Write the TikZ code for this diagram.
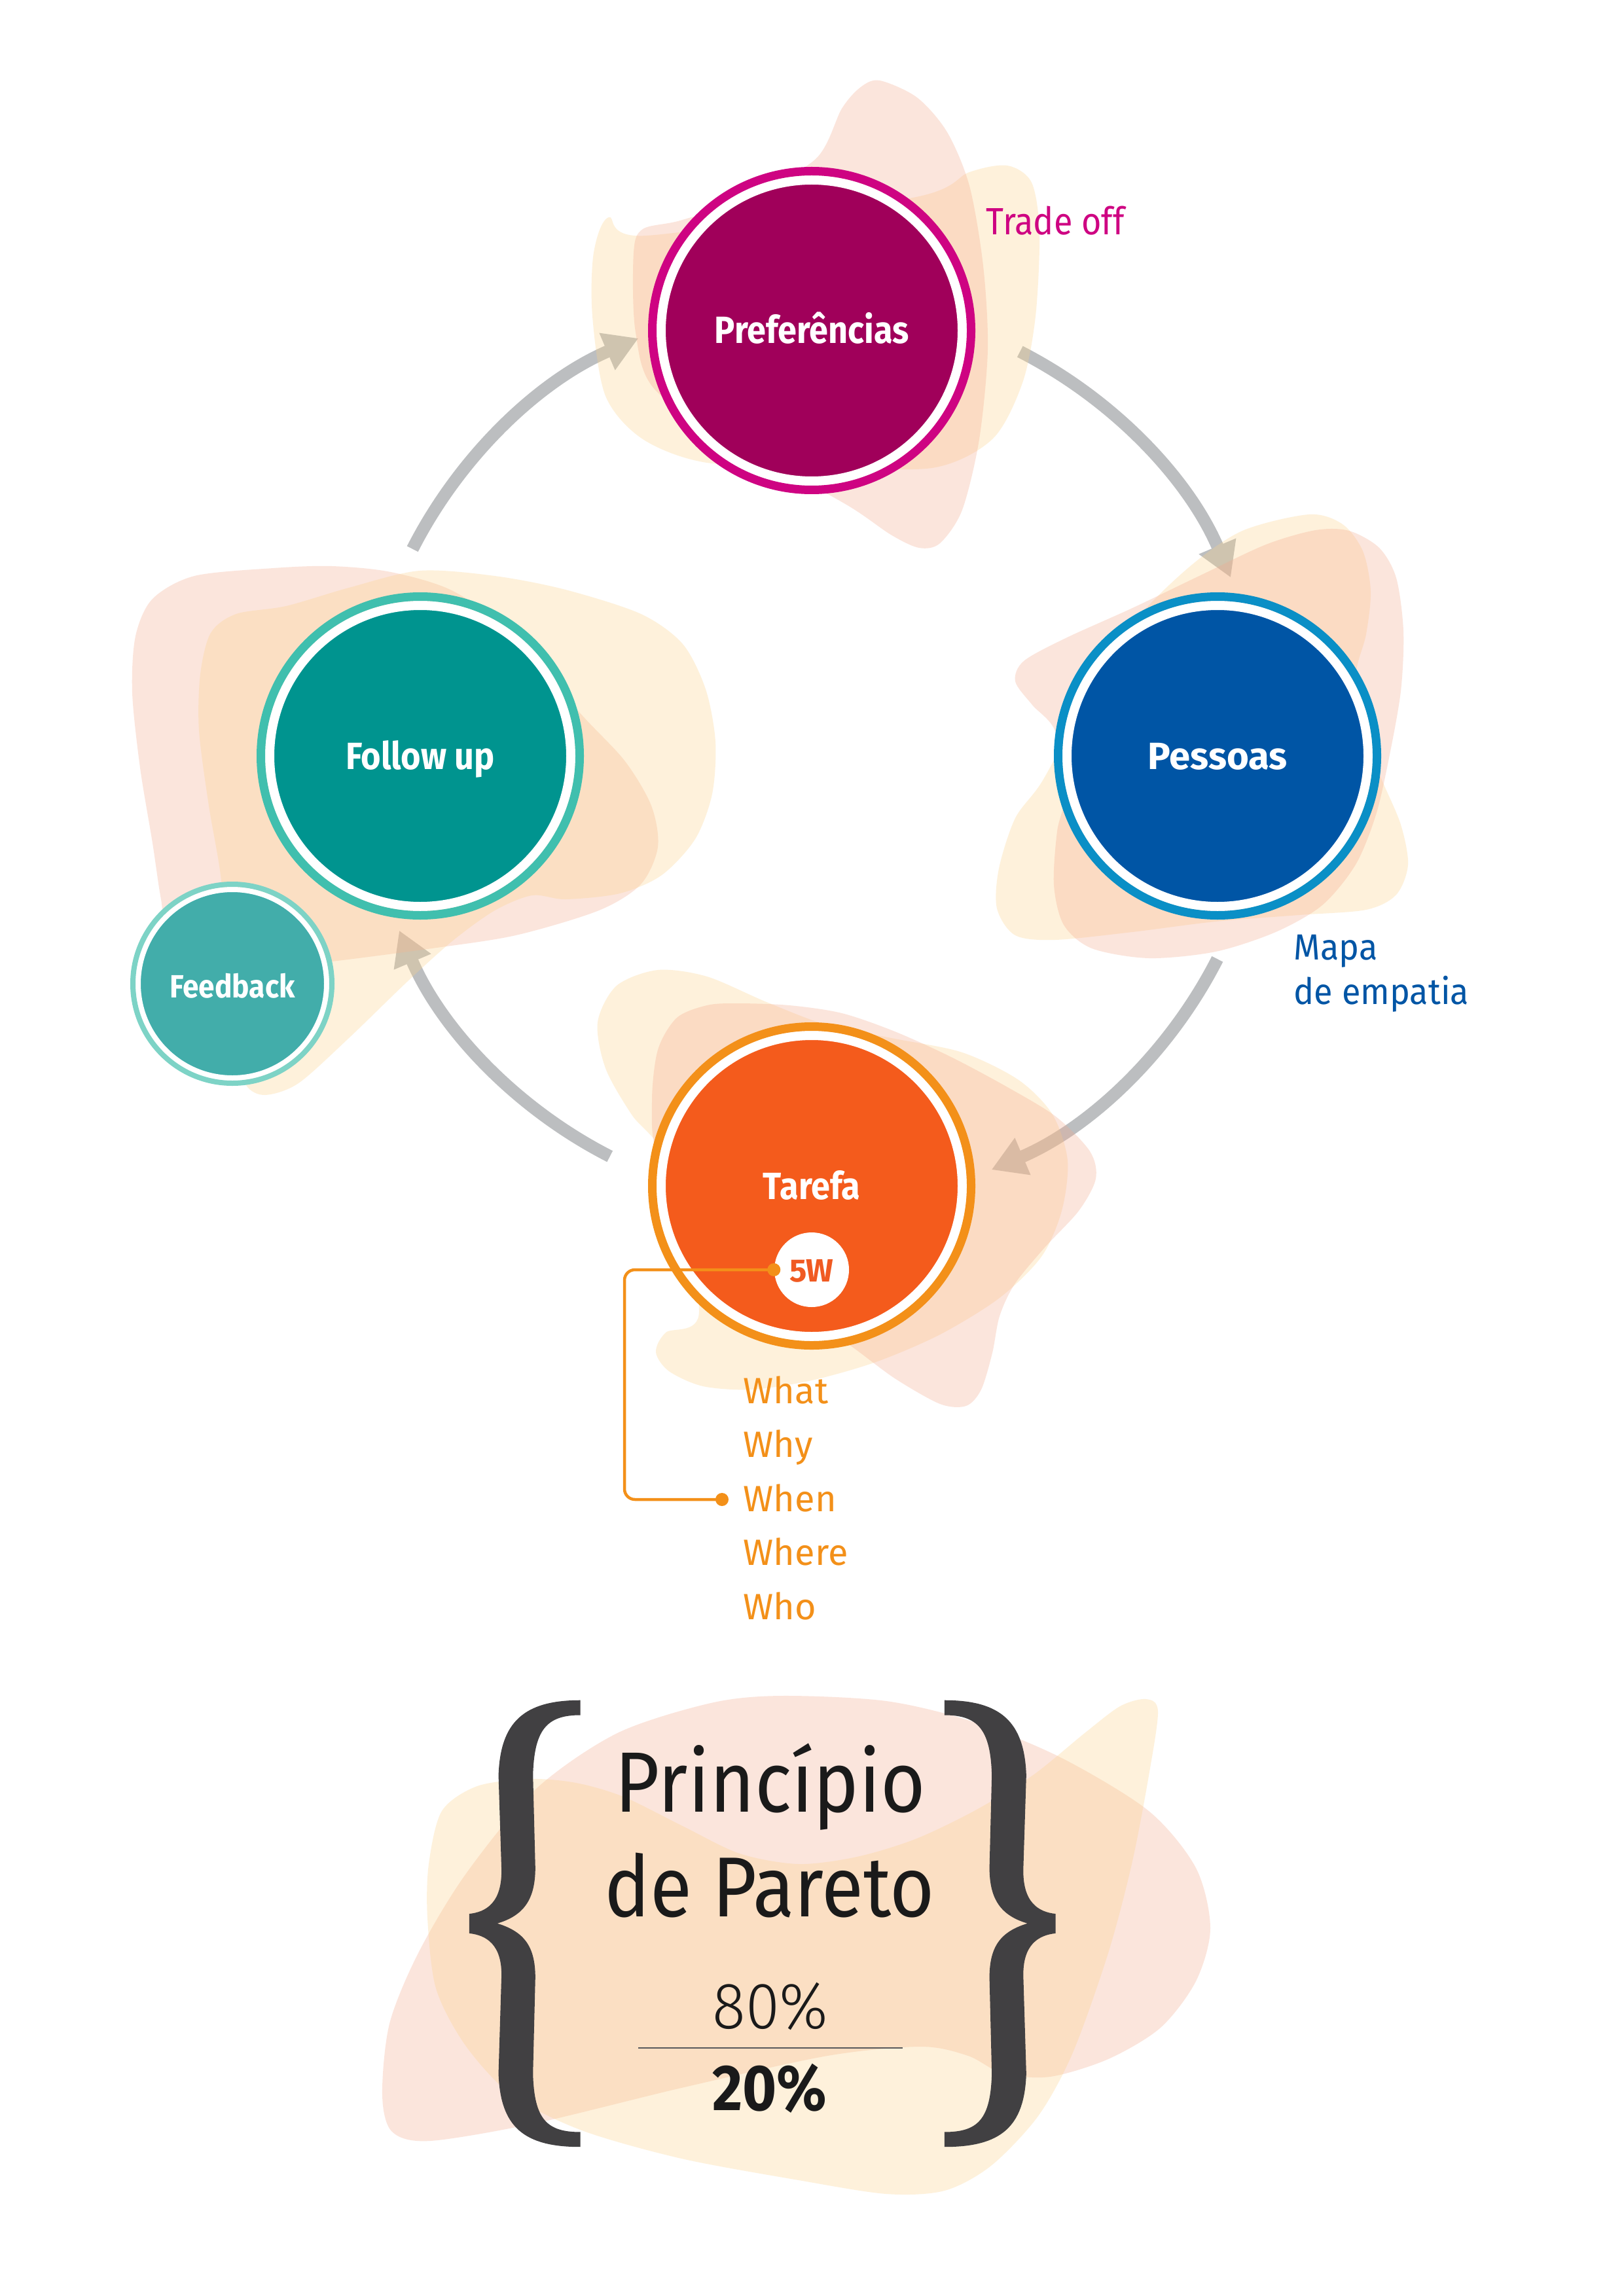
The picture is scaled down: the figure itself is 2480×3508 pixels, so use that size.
\documentclass[tikz,border=0pt]{standalone}
\usepackage{fontspec}
\setmainfont{Fira Sans}
\newfontfamily\lblfont[FakeStretch=0.9]{Fira Sans}
\newfontfamily\txtfont{Fira Sans}
\newfontfamily\notefont[FakeStretch=0.94]{Fira Sans}
\newfontfamily\headfont[FakeStretch=0.9]{Fira Sans}
\newfontfamily\thinfont[FakeStretch=0.94]{Fira Sans Light}
\usetikzlibrary{arrows.meta,calc}

\definecolor{prefFill}{HTML}{A0005A}
\definecolor{prefRing}{HTML}{CE0382}
\definecolor{pesFill}{HTML}{0055A5}
\definecolor{pesRing}{HTML}{0A8FC6}
\definecolor{fuFill}{HTML}{00948F}
\definecolor{fuRing}{HTML}{40BFAE}
\definecolor{fbFill}{HTML}{42ADAA}
\definecolor{fbRing}{HTML}{7DD3C6}
\definecolor{tarFill}{HTML}{F45B1C}
\definecolor{tarRing}{HTML}{F39019}
\definecolor{fiveW}{HTML}{F05A22}
\definecolor{arrowGray}{HTML}{BCBEC0}
\definecolor{braceGray}{HTML}{414042}
\definecolor{blobPink}{HTML}{F5A98C}
\definecolor{blobCream}{HTML}{FCD28A}
\definecolor{inkBlack}{HTML}{1A1A1A}
\definecolor{ruleGray}{HTML}{58595B}

\tikzset{
  flow/.style={draw=arrowGray, line width=1.9mm,
    -{Triangle[length=5.2mm,width=5.8mm]}},
  pinkblob/.style={fill=blobPink, fill opacity=0.3},
  creamblob/.style={fill=blobCream, fill opacity=0.3},
  bigdisc/.style={circle, minimum size=46mm, inner sep=0pt, draw=white,
    line width=1.4mm, text=white, text height=4mm, text depth=0pt,
    font=\lblfont\bfseries\fontsize{16.5}{20}\selectfont},
  smalldisc/.style={circle, minimum size=28.8mm, inner sep=0pt, draw=white,
    line width=0.8mm, text=white, text height=4.3mm, text depth=0pt,
    font=\lblfont\bfseries\fontsize{14}{17}\selectfont},
  bigring/.style={line width=1.3mm},
  smallring/.style={line width=0.8mm},
  note/.style={inner sep=0pt, anchor=base west,
    font=\notefont\fontsize{15.8}{19}\selectfont},
  wlist/.style={inner sep=0pt, anchor=base west, text=tarRing,
    font=\txtfont\fontsize{15.9}{19}\selectfont},
  conn/.style={draw=tarRing, line width=0.45mm},
  bigtext/.style={inner sep=0pt, anchor=base, text=inkBlack},
  curly/.pic={
    \fill[braceGray] (-311.5,88) .. controls (-408.5,88) and (-448.5,150) .. (-451.5,300)
      -- (-446.5,560) .. controls (-444.5,660) and (-473.5,685) .. (-501.5,690)
      -- (-501.5,745) .. controls (-473.5,750) and (-444.5,775) .. (-446.5,870)
      -- (-451.5,1140) .. controls (-448.5,1290) and (-408.5,1347) .. (-311.5,1347)
      -- (-311.5,1305) .. controls (-368.5,1305) and (-390.5,1270) .. (-392.5,1140)
      -- (-388.5,870) .. controls (-388.5,780) and (-408.5,740) .. (-453.5,717)
      .. controls (-408.5,695) and (-388.5,650) .. (-388.5,560)
      -- (-392.5,300) .. controls (-390.5,170) and (-368.5,130) .. (-311.5,130)
      -- cycle;
  }
}

\begin{document}
\begin{tikzpicture}[x=0.1mm, y=-0.1mm]
\useasboundingbox (0,0) rectangle (2480,3508);
\fill[white] (0,0) rectangle (2480,3508);

% ---- cycle arrows (under the tinted shapes) ----
\coordinate (hub) at (1245,1152);
\coordinate (fu-out)  at ($(hub)+(207:690)$);
\coordinate (pref-out) at ($(hub)+(297:690)$);
\coordinate (pes-out) at ($(hub)+(27:690)$);
\coordinate (tar-out) at ($(hub)+(117:690)$);
\draw[flow] (fu-out)  arc[start angle=207, end angle=247, radius=690];
\draw[flow] (pref-out) arc[start angle=297, end angle=337, radius=690];
\draw[flow] (pes-out) arc[start angle=27,  end angle=67,  radius=690];
\draw[flow] (tar-out) arc[start angle=117, end angle=157, radius=690];

% ---- soft shapes behind the circles ----
\fill[creamblob] plot[smooth cycle] coordinates {(930,332) (988,360) (1395,302) (1481,263) (1539,253) (1576,279) (1588,355) (1582,483) (1562,585) (1516,671) (1424,715) (1252,712) (1080,707) (982,671) (925,605) (905,483) (907,386)};
\fill[pinkblob] plot[smooth cycle] coordinates {(1344,123) (1401,149) (1447,202) (1481,284) (1502,406) (1509,534) (1496,671) (1470,779) (1436,830) (1404,837) (1361,817) (1298,774) (1171,702) (1005,600) (971,508) (968,386) (982,350) (1039,337) (1137,304) (1246,243) (1286,166) (1315,133)};

\fill[creamblob] plot[smooth cycle] coordinates {(2000,786) (2051,801) (2082,842) (2094,903) (2087,969) (2071,1036) (2087,1133) (2112,1194) (2140,1260) (2151,1321) (2133,1367) (2087,1390) (1985,1398) (1857,1408) (1730,1424) (1612,1436) (1551,1429) (1523,1388) (1526,1327) (1551,1250) (1592,1194) (1653,1082) (1730,954) (1816,867) (1898,811)};
\fill[pinkblob] plot[smooth cycle] coordinates {(2061,811) (2107,837) (2133,883) (2144,964) (2140,1056) (2122,1158) (2102,1245) (2071,1321) (2020,1383) (1949,1424) (1857,1454) (1755,1464) (1668,1449) (1625,1413) (1610,1352) (1615,1270) (1628,1209) (1612,1117) (1577,1077) (1551,1041) (1564,1010) (1628,975) (1730,929) (1832,880) (1934,832) (2010,810)};

\fill[pinkblob] plot[smooth cycle] coordinates {(297,880) (418,868) (507,865) (597,874) (692,903) (788,972) (884,1087) (954,1162) (995,1231) (1005,1294) (979,1351) (915,1391) (788,1429) (660,1449) (507,1469) (373,1483) (265,1460) (246,1374) (233,1288) (214,1173) (202,1058) (207,972) (233,915)};
\fill[creamblob] plot[smooth cycle] coordinates {(641,872) (756,880) (864,901) (979,938) (1043,984) (1078,1053) (1093,1133) (1088,1213) (1062,1282) (1011,1337) (947,1365) (864,1374) (813,1368) (756,1391) (692,1437) (622,1500) (533,1586) (456,1655) (405,1673) (376,1658) (361,1604) (348,1489) (338,1345) (319,1231) (304,1116) (306,1030) (322,967) (361,938) (437,926) (533,898)};

\fill[creamblob] plot[smooth cycle] coordinates {(913,1562) (942,1506) (1005,1482) (1080,1492) (1171,1531) (1263,1566) (1367,1587) (1470,1608) (1556,1650) (1608,1703) (1631,1773) (1622,1850) (1591,1920) (1527,1983) (1436,2039) (1338,2081) (1240,2109) (1149,2123) (1074,2118) (1022,2095) (1002,2066) (1017,2036) (1068,2004) (1022,1780) (965,1703) (925,1632)};
\fill[pinkblob] plot[smooth cycle] coordinates {(1126,1533) (1206,1536) (1286,1548) (1367,1576) (1453,1615) (1539,1661) (1613,1706) (1665,1759) (1674,1801) (1648,1850) (1596,1906) (1550,1962) (1527,2011) (1516,2067) (1499,2123) (1476,2148) (1436,2145) (1367,2106) (1298,2055) (1194,1983) (1080,1871) (1005,1766) (996,1682) (1005,1604) (1034,1555) (1080,1536)};

% ---- the four stages ----
\node[bigdisc, fill=prefFill] (pref) at (1240,505) {Preferências};
\draw[bigring, prefRing] (pref.center) circle[radius=24.35mm];
\node[bigdisc, fill=pesFill, font=\txtfont\bfseries\fontsize{16.5}{20}\selectfont] (pes) at (1860,1155) {Pessoas};
\draw[bigring, pesRing] (pes.center) circle[radius=24.35mm];
\node[bigdisc, fill=fuFill] (fu) at (642,1155) {Follow up};
\draw[bigring, fuRing] (fu.center) circle[radius=24.35mm];
\node[bigdisc, fill=tarFill] (tar) at (1240,1812) {Tarefa};
\draw[bigring, tarRing] (tar.center) circle[radius=24.35mm];
\node[smalldisc, fill=fbFill] (fb) at (355,1503) {Feedback};
\draw[smallring, fbRing] (fb.center) circle[radius=15.2mm];

% ---- side notes ----
\node[note, text=prefRing, font=\lblfont\fontsize{16.5}{20}\selectfont] (trade) at (1506,359) {Trade off};
\node[note, text=pesFill] (mapa) at (1976,1466) {Mapa};
\node[note, text=pesFill] (empatia) at (1976,1534) {de empatia};

% ---- 5W ----
\node[circle, fill=white, minimum size=11.4mm, inner sep=0pt, text=fiveW,
      text height=3.7mm, text depth=0pt,
      font=\txtfont\bfseries\fontsize{14}{17}\selectfont] (w5) at (1240,1940) {5W};
\node[wlist] (what)  at (1135,2144.5) {What};
\node[wlist] (why)   at (1135,2226.6) {Why};
\node[wlist] (when)  at (1135,2309)   {When};
\node[wlist] (where) at (1135,2391)   {Where};
\node[wlist] (who)   at (1135,2474)   {Who};
\coordinate (whendot) at ([shift={(-32,-18)}]when.base west);
\draw[conn, rounded corners=1.6mm] (w5.west) -| ($(whendot)+(-149,0)$) -- (whendot);
\fill[tarRing] (w5.west) circle[radius=1mm];
\fill[tarRing] (whendot) circle[radius=1mm];

% ---- Pareto block ----
\fill[pinkblob] plot[smooth cycle] coordinates {(1193,2591) (1354,2599) (1488,2631) (1622,2686) (1755,2767) (1827,2854) (1849,2946) (1827,3027) (1773,3098) (1693,3146) (1604,3173) (1532,3168) (1479,3141) (1407,3127) (1264,3141) (1041,3190) (818,3244) (657,3271) (599,3257) (584,3201) (595,3092) (639,2984) (711,2864) (818,2734) (943,2648) (1086,2602)};
\fill[creamblob] plot[smooth cycle] coordinates {(809,2718) (729,2729) (675,2767) (655,2848) (653,2930) (666,3038) (711,3125) (782,3201) (889,3255) (1041,3298) (1220,3331) (1354,3352) (1443,3347) (1514,3309) (1586,3233) (1639,3136) (1693,2984) (1729,2848) (1755,2713) (1769,2615) (1751,2596) (1711,2607) (1657,2648) (1577,2713) (1488,2767) (1398,2810) (1309,2837) (1220,2848) (1130,2832) (1041,2789) (952,2745) (880,2724)};

\pic[xscale=0.8929, yscale=0.5421] at (1164.7,2550) {curly};
\pic[xscale=-0.8929, yscale=0.5421] at (1164.7,2550) {curly};

\node[bigtext, font=\headfont\fontsize{37.2}{40}\selectfont] (princ) at (1177,2768.5) {Princípio};
\node[bigtext, font=\headfont\fontsize{37}{40}\selectfont] (pareto) at (1176,2928) {de Pareto};
\node[bigtext, font=\thinfont\fontsize{28.5}{32}\selectfont] (eighty) at (1177,3099) {80\%};
\node[bigtext, font=\lblfont\bfseries\fontsize{28.2}{32}\selectfont] (twenty) at (1176,3224) {20\%};
\coordinate (barL) at (975,3129);
\coordinate (barR) at (1379,3129);
\draw[ruleGray, line width=0.2mm] (barL) -- (barR);
\end{tikzpicture}
\end{document}
